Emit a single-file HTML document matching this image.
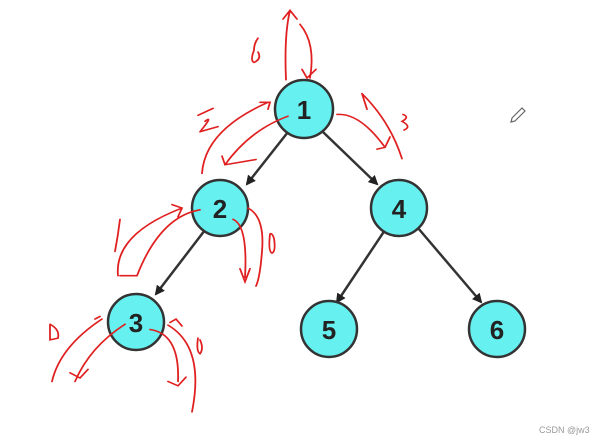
<!DOCTYPE html><html><head><style>html,body{margin:0;background:#fff;overflow:hidden;width:602px;height:444px}svg{display:block}</style></head><body>
<svg width="602" height="444" viewBox="0 0 602 444" xmlns="http://www.w3.org/2000/svg">
<defs><marker id="a" markerWidth="10" markerHeight="10" refX="8" refY="5" orient="auto" markerUnits="userSpaceOnUse"><path d="M0,0 L10,5 L0,10 z" fill="#222"/></marker></defs>
<g stroke="#333" stroke-width="2.5" marker-end="url(#a)">
<line x1="288" y1="132" x2="247" y2="184"/>
<line x1="323" y1="132" x2="377" y2="184"/>
<line x1="205" y1="230" x2="156" y2="294"/>
<line x1="385" y1="230" x2="337" y2="302"/>
<line x1="418" y1="228" x2="481" y2="302"/>
</g>
<g fill="#66f0f0" stroke="#333" stroke-width="2.5">
<circle cx="304" cy="109" r="29"/><circle cx="220" cy="208" r="28"/><circle cx="399" cy="208" r="28"/>
<circle cx="136" cy="322" r="28"/><circle cx="329" cy="329" r="28"/><circle cx="497" cy="329" r="28"/>
</g>
<g font-family="Liberation Sans,sans-serif" font-weight="bold" font-size="26" fill="#222" text-anchor="middle">
<text x="304" y="119">1</text><text x="220" y="218">2</text><text x="399" y="218">4</text>
<text x="136" y="332">3</text><text x="329" y="339">5</text><text x="497" y="339">6</text>
</g>
<g fill="none" stroke="#e02020" stroke-width="1.8" stroke-linecap="round" transform="scale(1,0.867)">
<path d="M286 92 Q284 40 290 12 M283 22 L290 12 L297 22"/>
<path d="M300 28 Q316 50 310 90 M302 80 L307 90 L316 80"/>
<path d="M254 58 Q250 70 254 72 Q262 68 258 60 M258 44 Q254 50 254 58"/>
<path d="M202 200 Q205 150 268 118 M260 118 L270 118 L268 126"/>
<path d="M288 134 Q250 150 225 190 M222 180 L225 190 L256 184"/>
<path d="M198 133 L213 125 M200 152 L218 146 M205 140 Q214 132 200 152"/>
<path d="M337 132 Q360 130 385 170 M377 172 L385 170 L390 158"/>
<path d="M362 108 L367 126 M362 108 Q390 140 402 183"/>
<path d="M403 132 Q410 135 402 140 Q412 146 404 150"/>
<path d="M200 242 Q160 250 137 318 M118 318 Q114 270 182 240 M172 236 L182 240 L178 250 M120 318 L137 318"/>
<path d="M120 253 Q118 272 115 290"/>
<path d="M233 253 Q248 260 245 320 M240 310 L245 325 L250 310"/>
<path d="M248 240 Q265 250 262 290 Q260 320 256 330"/>
<path d="M270 270 Q268 290 272 292 Q276 290 274 275 Q272 268 270 270"/>
<path d="M125 374 Q90 400 75 440 M70 430 L80 436 L88 426"/>
<path d="M102 368 Q60 400 52 440 M95 368 L100 365"/>
<path d="M50 374 L50 392 L58 390 Q60 380 50 374"/>
<path d="M150 380 Q180 385 178 440 M168 440 L178 445 L186 435"/>
<path d="M168 375 Q205 400 192 475 M170 372 L176 368 L182 376"/>
<path d="M198 390 Q196 405 200 408 Q204 402 200 392"/>
</g>
<path d="M512 118 L522 108 L525 111 L515 121 L511 122 z" fill="none" stroke="#666" stroke-width="1.2"/>
<text x="539" y="433" font-family="Liberation Sans,sans-serif" font-size="9" fill="#999">CSDN @jw3</text>
</svg>
</body></html>
